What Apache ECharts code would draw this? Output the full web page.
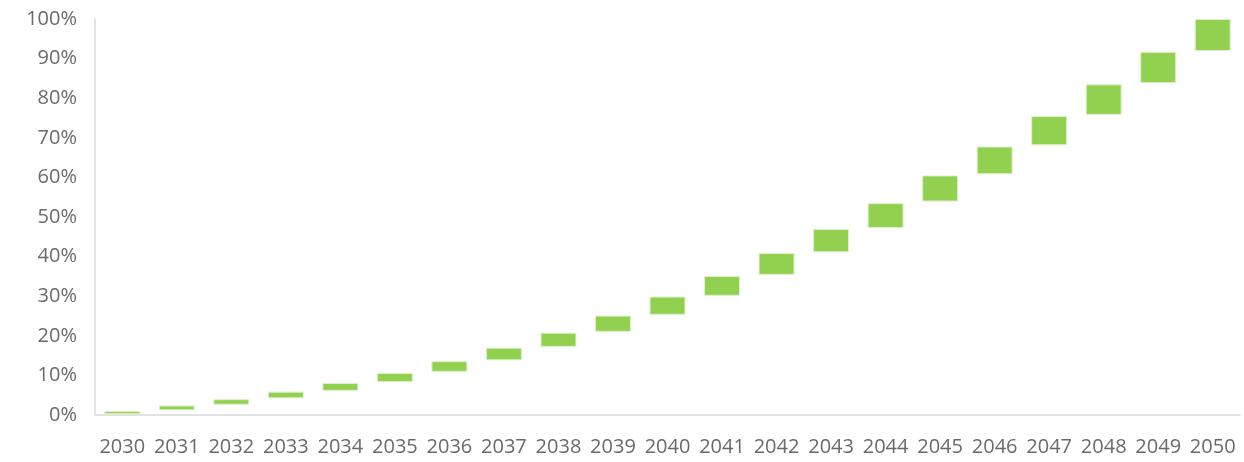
<!DOCTYPE html>
<html>
<head>
<meta charset="utf-8">
<script src="https://cdn.jsdelivr.net/npm/echarts@6/dist/echarts.min.js"></script>
<style>
  html, body { margin: 0; padding: 0; background: #fff; }
  #chart { width: 1244px; height: 462px; }
</style>
</head>
<body>
<div id="chart"></div>
<script>
// 年份
var years = ["2030", "2031", "2032", "2033", "2034", "2035", "2036", "2037", "2038", "2039", "2040",
  "2041", "2042", "2043", "2044", "2045", "2046", "2047", "2048", "2049", "2050"];
// 每个浮动柱的下沿 (%)
var lows = [0.2, 1.2, 2.6, 4.2, 6.1, 8.3, 10.9, 13.8, 17.2, 21.0, 25.3,
  30.1, 35.4, 41.1, 47.2, 53.9, 60.8, 68.1, 75.8, 83.8, 91.9];
// 每个浮动柱的上沿 (%)
var highs = [1.0, 2.4, 4.0, 5.9, 8.1, 10.6, 13.6, 17.0, 20.8, 25.1, 29.9,
  35.1, 40.9, 47.0, 53.5, 60.5, 67.8, 75.5, 83.5, 91.7, 100];
// y轴刻度
var yTicks = [0, 10, 20, 30, 40, 50, 60, 70, 80, 90, 100];

var spans = highs.map(function(h, i) { return +(h - lows[i]).toFixed(2); });

var myChart = echarts.init(document.getElementById("chart"));
var labelStyle = {
  color: "#6a6a6a",
  fontFamily: "Open Sans",
  fontSize: 20
};
var option = {
  animation: false,
  grid: { left: 95, right: 4, top: 19, bottom: 47 },
  xAxis: {
    type: "category",
    data: years,
    axisLine: { show: true, lineStyle: { color: "#d9d9d9", width: 1.5 } },
    axisTick: { show: false },
    axisLabel: Object.assign({ margin: 22, interval: 0 }, labelStyle)
  },
  yAxis: {
    type: "value",
    min: yTicks[0],
    max: yTicks[yTicks.length - 1],
    interval: 10,
    axisLine: { show: true, lineStyle: { color: "#d9d9d9", width: 1.5 } },
    axisTick: { show: false },
    splitLine: { show: false },
    axisLabel: Object.assign({ margin: 18, formatter: "{value}%" }, labelStyle)
  },
  series: [
    {
      type: "bar",
      stack: "w",
      data: lows,
      itemStyle: { color: "transparent" },
      silent: true
    },
    {
      type: "bar",
      stack: "w",
      data: spans,
      barWidth: "66%",
      itemStyle: {
        color: "#92d050",
        borderColor: "#dff2cd",
        borderWidth: 1
      }
    }
  ]
};
myChart.setOption(option);
</script>
</body>
</html>
